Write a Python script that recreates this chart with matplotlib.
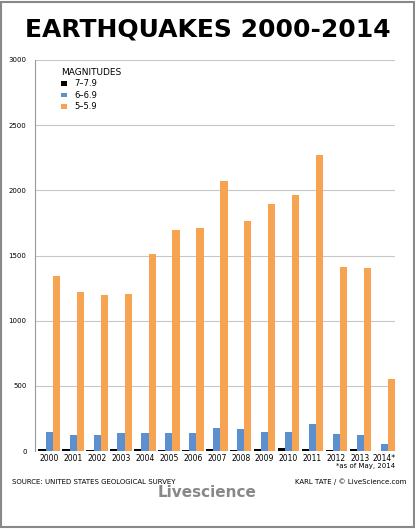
import numpy as np
from matplotlib import pyplot as plt

years = ['2000', '2001', '2002', '2003', '2004', '2005', '2006', '2007',
         '2008', '2009', '2010', '2011', '2012', '2013', '2014*']
mag7 = [14, 15, 13, 14, 14, 10, 9, 14, 12, 16, 23, 19, 12, 17, 5]
mag6 = [146, 121, 127, 140, 141, 140, 142, 178, 168, 144, 150, 206, 129, 125, 55]
mag5 = [1344, 1224, 1201, 1203, 1515, 1693, 1712, 2074, 1768, 1896, 1963, 2271, 1412, 1402, 555]

fig = plt.figure(figsize=(4.15, 5.29), dpi=100)
ax = fig.add_axes([0.084, 0.147, 0.868, 0.74])
x = np.arange(len(years))
w = 0.3
ax.bar(x - w, mag7, w, color='black', label='7\u20137.9')
ax.bar(x, mag6, w, color='#5b8fd0', label='6\u20136.9')
ax.bar(x + w, mag5, w, color='#f6a352', label='5\u20135.9')

ax.set_ylim(0, 3000)
ax.set_xlim(-0.6, len(years) - 0.55)
ax.set_yticks(range(0, 3001, 500))
ax.tick_params(axis='y', labelsize=5, length=0, pad=6)
ax.tick_params(axis='x', labelsize=5.5, length=0, pad=2)
ax.set_xticks(x)
ax.set_xticklabels(years)
ax.yaxis.grid(True, color='#c8c8c8', linewidth=0.8)
ax.set_axisbelow(True)
for s in ['top', 'right', 'bottom']:
    ax.spines[s].set_visible(False)
ax.spines['left'].set_color('#999999')
ax.axhline(0, color='#999999', linewidth=0.8)

leg = ax.legend(loc='upper left', bbox_to_anchor=(0.06, 0.99), frameon=False,
                fontsize=6, title='MAGNITUDES', handlelength=0.8,
                handleheight=0.5, labelspacing=0.3, borderpad=0)
leg.get_title().set_fontsize(6.5)
leg._legend_box.align = 'left'

fig.text(0.5, 0.945, 'EARTHQUAKES 2000-2014', ha='center', va='center',
         fontsize=18, fontweight='bold', family=['Liberation Sans Narrow', 'DejaVu Sans'])
fig.text(0.952, 0.115, '*as of May, 2014', ha='right', fontsize=5)
fig.text(0.03, 0.085, 'SOURCE: UNITED STATES GEOLOGICAL SURVEY', fontsize=5)
fig.text(0.98, 0.085, 'KARL TATE / \u00a9 LiveScience.com', ha='right', fontsize=5)
fig.text(0.5, 0.06, 'Livescience', ha='center', fontsize=11, color='#888888',
         fontweight='bold')
fig.patches.append(plt.Rectangle((0.003, 0.003), 0.994, 0.994, fill=False,
                                 edgecolor='#888888', linewidth=1.5,
                                 transform=fig.transFigure))
fig.savefig('out.png', dpi=100)
